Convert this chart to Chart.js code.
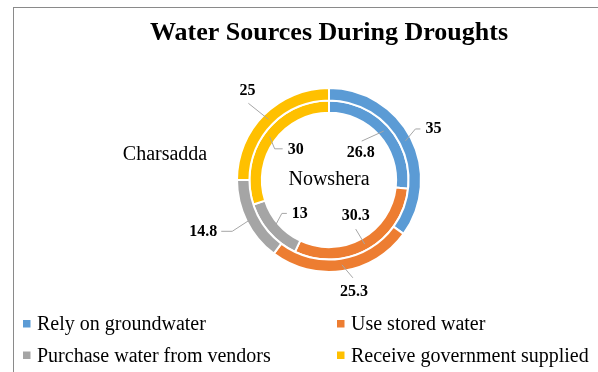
<!DOCTYPE html>
<html>
<head>
<meta charset="utf-8">
<script src="https://cdn.jsdelivr.net/npm/chart.js@4/dist/chart.umd.min.js"></script>
<style>
  html, body { margin: 0; padding: 0; background: #fff; overflow: hidden; }
  #frame { position: absolute; left: 13px; top: 7px; width: 800px; height: 600px;
           border-left: 1px solid #8a8a8a; border-top: 1px solid #8a8a8a; }
  #chart { position: absolute; left: 0; top: 0; }
</style>
</head>
<body>
<div id="frame"></div>
<canvas id="chart" width="598" height="372"></canvas>
<script>
// Water sources during droughts, % of households
const categories = ["Rely on groundwater", "Use stored water", "Purchase water from vendors", "Receive government supplied"];
const districts = ["Charsadda", "Nowshera"];
const charsadda = [35, 25.3, 14.8, 25];
const nowshera = [26.8, 30.3, 13, 30];
const colors = ["#5B9BD5", "#ED7D31", "#A5A5A5", "#FFC000"];

const FONT = "'Liberation Serif', 'Times New Roman', serif";

// leader line shapes per ring: elbow, end of line, text anchor (relative to arc midpoint)
const leaders = [
  [ // outer ring (Charsadda)
    { elbow: [10, -12], end: [15, -12], text: [20, -12], align: "left" },
    { elbow: [11, 13], end: [11, 13], text: [12, 27], align: "center" },
    { elbow: [-20, 13], end: [-31, 13], text: [-35, 14], align: "right" },
    { elbow: [-20, -16], end: [-20, -16], text: [-21, -28], align: "center" },
  ],
  [ // inner ring (Nowshera)
    { elbow: [-22, 10], end: [-22, 10], text: [-23, 22], align: "center" },
    { elbow: [-9, -15], end: [-9, -15], text: [-9, -28], align: "center" },
    { elbow: [8, -15], end: [13, -15], text: [18, -15], align: "left" },
    { elbow: [5, 12], end: [13, 12], text: [18, 13], align: "left" },
  ],
];
// ring name positions relative to doughnut centre
const ringNames = [[-164, -25], [0, 0]];

const ringLabels = {
  id: "ringLabels",
  afterDatasetsDraw(chart) {
    const ctx = chart.ctx;
    ctx.save();
    let cx = 0, cy = 0;
    chart.data.datasets.forEach((ds, di) => {
      const meta = chart.getDatasetMeta(di);
      meta.data.forEach((arc, i) => {
        const p = arc.getProps(["x", "y", "startAngle", "endAngle", "innerRadius", "outerRadius"], true);
        cx = p.x; cy = p.y;
        const a = (p.startAngle + p.endAngle) / 2;
        const r = (p.innerRadius + p.outerRadius) / 2;
        const sx = p.x + Math.cos(a) * r;
        const sy = p.y + Math.sin(a) * r;
        const l = leaders[di][i];
        ctx.strokeStyle = "#a6a6a6";
        ctx.lineWidth = 1;
        ctx.beginPath();
        ctx.moveTo(sx, sy);
        ctx.lineTo(sx + l.elbow[0], sy + l.elbow[1]);
        ctx.lineTo(sx + l.end[0], sy + l.end[1]);
        ctx.stroke();
        ctx.fillStyle = "#000";
        ctx.font = "bold 16px " + FONT;
        ctx.textAlign = l.align;
        ctx.textBaseline = "middle";
        ctx.fillText(String(ds.data[i]), sx + l.text[0], sy + l.text[1]);
      });
    });
    ctx.font = "20px " + FONT;
    ctx.textAlign = "center";
    ctx.textBaseline = "middle";
    ctx.fillStyle = "#000";
    districts.forEach((d, i) => ctx.fillText(d, cx + ringNames[i][0], cy + ringNames[i][1]));
    ctx.restore();
  },
};

// two-column legend at the bottom
const gridLegend = {
  id: "gridLegend",
  afterDraw(chart) {
    const ctx = chart.ctx;
    const cols = [23, 337];
    const rows = [330, 361.5];
    ctx.save();
    ctx.font = "20px " + FONT;
    ctx.textBaseline = "alphabetic";
    ctx.textAlign = "left";
    categories.forEach((c, i) => {
      const x = cols[i % 2], y = rows[Math.floor(i / 2)];
      ctx.fillStyle = colors[i];
      ctx.fillRect(x, y - 10, 7.5, 7.5);
      ctx.fillStyle = "#000";
      ctx.fillText(c, x + 14, y);
    });
    ctx.restore();
  },
};

new Chart(document.getElementById("chart"), {
  type: "doughnut",
  data: {
    labels: categories,
    datasets: [
      { label: districts[0], data: charsadda, backgroundColor: colors, borderColor: "#fff", borderWidth: 2 },
      { label: districts[1], data: nowshera, backgroundColor: colors, borderColor: "#fff", borderWidth: 2 },
    ],
  },
  options: {
    responsive: false,
    animation: false,
    events: [],
    cutout: "73%",
    hoverOffset: 0,
    layout: { padding: { top: 14, left: 99, right: 39, bottom: 99 } },
    plugins: {
      legend: { display: false },
      tooltip: { enabled: false },
      title: {
        display: true,
        text: "Water Sources During Droughts",
        color: "#000",
        font: { family: FONT, size: 26, weight: "bold" },
        padding: { top: 4, bottom: 37.8 },
      },
    },
  },
  plugins: [ringLabels, gridLegend],
});
</script>
</body>
</html>
